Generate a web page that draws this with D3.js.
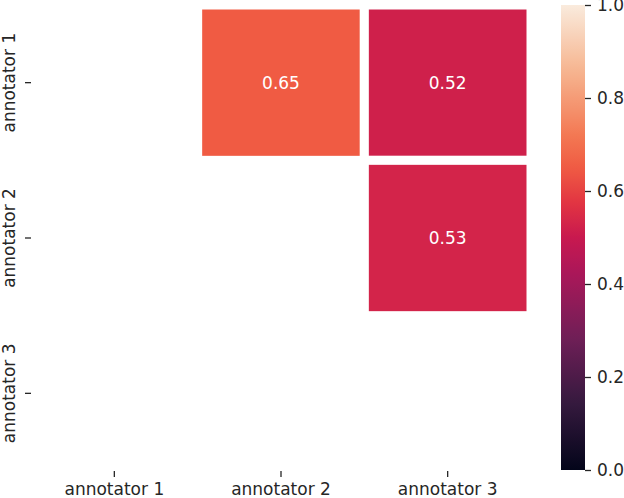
<!DOCTYPE html>
<html>
<head>
<meta charset="utf-8">
<script src="https://d3js.org/d3.v7.min.js"></script>
<style>
	body { margin: 0; background: #fff; }
	svg text { font-family: "DejaVu Sans", sans-serif; }
</style>
</head>
<body>
<div id="chart"></div>
<script>
// --- DATA --- \\
var annotators = ["annotator 1", "annotator 2", "annotator 3"];
// upper triangle only, null = masked cell
var agreementRow1 = [null, 0.65, 0.52];
var agreementRow2 = [null, null, 0.53];
var agreementRow3 = [null, null, null];
var cbarTicks = [0.0, 0.2, 0.4, 0.6, 0.8, 1.0];

// seaborn "rocket" colormap, sampled stops (estimated)
var rocketStops = [0, 1/7, 2/7, 3/7, 0.5, 4/7, 0.65, 5/7, 6/7, 1];
var rocketColors = ["#03051a", "#35193e", "#701f57", "#ad1759", "#c8194f", "#e13342", "#f05b43", "#f37651", "#f6b48f", "#faebdd"];

var width = 624, height = 498, fontSize = 17, tickLen = 6, tickPad = 6;
var plot = {left: 31, right: 531, top: 5, bottom: 471};
var cbar = {left: 561, right: 585, top: 5, bottom: 470};

var svg = d3.select("#chart").append("svg")
	.attr("width", width)
	.attr("height", height);

var color = d3.scaleLinear()
	.domain(rocketStops)
	.range(rocketColors)
	.interpolate(d3.interpolateRgb)
	.clamp(true);

var x = d3.scaleBand().domain(annotators).range([plot.left, plot.right]);
var y = d3.scaleBand().domain(annotators).range([plot.top, plot.bottom]);

// flatten rows into cells
var cells = [];
[agreementRow1, agreementRow2, agreementRow3].forEach(function (row, i) {
	row.forEach(function (v, j) {
		if (v !== null) cells.push({row: annotators[i], col: annotators[j], value: v});
	});
});

// --- CELLS --- \\ white stroke gives the gaps between squares
svg.append("g").selectAll("rect").data(cells).enter().append("rect")
	.attr("x", function (d) { return x(d.col); })
	.attr("y", function (d) { return y(d.row); })
	.attr("width", x.bandwidth())
	.attr("height", y.bandwidth())
	.attr("fill", function (d) { return color(d.value); })
	.attr("stroke", "#fff")
	.attr("stroke-width", 9);

svg.append("g").selectAll("text").data(cells).enter().append("text")
	.attr("x", function (d) { return x(d.col) + x.bandwidth() / 2; })
	.attr("y", function (d) { return y(d.row) + y.bandwidth() / 2; })
	.attr("dy", "0.35em")
	.attr("text-anchor", "middle")
	.attr("font-size", fontSize + "px")
	.attr("fill", "#fff")
	.text(function (d) { return d3.format(".2f")(d.value); });

// --- AXES --- \\
var xAxis = svg.append("g")
	.attr("transform", "translate(0," + plot.bottom + ")")
	.call(d3.axisBottom(x).tickSize(tickLen).tickPadding(tickPad));
var yAxis = svg.append("g")
	.attr("transform", "translate(" + plot.left + ",0)")
	.call(d3.axisLeft(y).tickSize(tickLen).tickPadding(tickPad));

[xAxis, yAxis].forEach(function (ax) {
	ax.select(".domain").remove();
	ax.selectAll("line").attr("stroke", "#262626").attr("stroke-width", 1.3);
	ax.selectAll("text").attr("font-size", fontSize + "px").attr("fill", "#262626")
		.attr("font-family", "DejaVu Sans, sans-serif");
});

// vertical y labels, baseline sits at x ~ 15
yAxis.selectAll("text")
	.attr("x", 0)
	.attr("dy", 0)
	.attr("transform", "translate(" + (15 - plot.left) + ",0) rotate(-90)")
	.attr("text-anchor", "middle");

// --- COLORBAR --- \\
var cbarY = d3.scaleLinear().domain([0, 1]).range([cbar.bottom, cbar.top]);

var grad = svg.append("defs").append("linearGradient")
	.attr("id", "rocket")
	.attr("x1", 0).attr("y1", 1).attr("x2", 0).attr("y2", 0);
grad.selectAll("stop").data(d3.range(0, 1.0001, 0.02)).enter().append("stop")
	.attr("offset", function (d) { return d; })
	.attr("stop-color", function (d) { return color(d); });

svg.append("rect")
	.attr("x", cbar.left)
	.attr("y", cbarY(1))
	.attr("width", cbar.right - cbar.left)
	.attr("height", cbarY(0) - cbarY(1))
	.attr("fill", "url(#rocket)");

var cAxis = svg.append("g")
	.attr("transform", "translate(" + cbar.right + ",0)")
	.call(d3.axisRight(cbarY).tickValues(cbarTicks).tickFormat(d3.format(".1f"))
		.tickSize(tickLen).tickPadding(tickPad));
cAxis.select(".domain").remove();
cAxis.selectAll("line").attr("stroke", "#262626").attr("stroke-width", 1.3);
cAxis.selectAll("text").attr("font-size", fontSize + "px").attr("fill", "#262626")
	.attr("font-family", "DejaVu Sans, sans-serif");
</script>
</body>
</html>
